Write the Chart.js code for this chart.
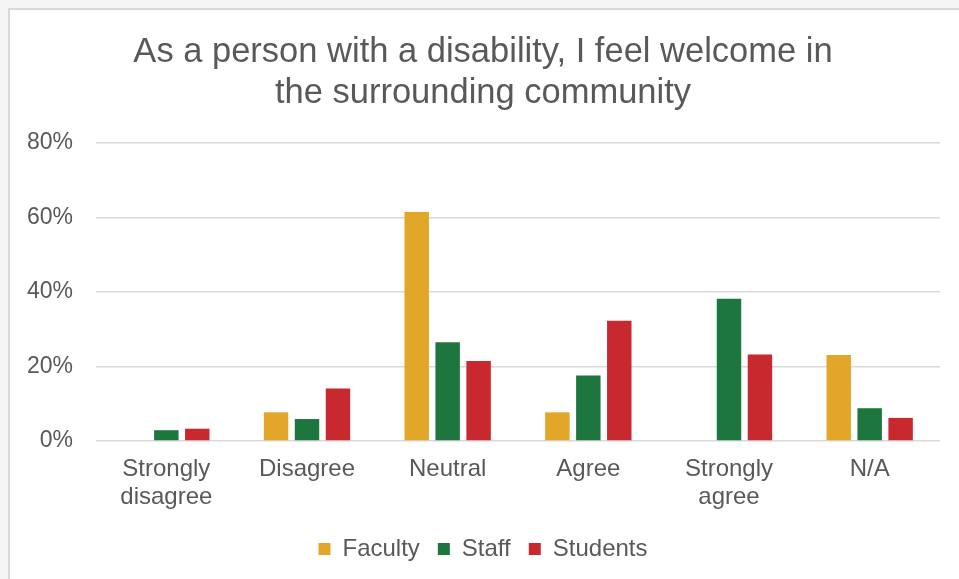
<!DOCTYPE html>
<html>
<head>
<meta charset="utf-8">
<script src="https://cdn.jsdelivr.net/npm/chart.js@4"></script>
<style>
    html, body { margin: 0; padding: 0; background: #f5f5f5; overflow: hidden; }
    #card {
        position: absolute;
        left: 8px;
        top: 8px;
        width: 951px;
        height: 571px;
        background: #ffffff;
        border-left: 2px solid #d9d9d9;
        border-top: 2px solid #d9d9d9;
    }
    canvas { display: block; }
</style>
</head>
<body>
<div id="card"><canvas id="welcomeChart" width="949" height="569"></canvas></div>
<script>
const categories = [["Strongly", "disagree"], "Disagree", "Neutral", "Agree", ["Strongly", "agree"], "N/A"];
const faculty = [0, 7.7, 61.5, 7.7, 0, 23.1];
const staff = [2.9, 5.9, 26.5, 17.6, 38.2, 8.8];
const students = [3.3, 14.1, 21.5, 32.3, 23.2, 6.2];
const yTicks = [0, 20, 40, 60, 80];

const textColor = "#595959";
const gridColor = "#d9d9d9";
const fontFamily = "Liberation Sans, Arial";

document.addEventListener("DOMContentLoaded", () => {
    const canvas = document.getElementById("welcomeChart");

    new Chart(canvas, {
        type: "bar",
        data: {
            labels: categories,
            datasets: [
                { label: "Faculty", data: faculty, backgroundColor: "#e2a628" },
                { label: "Staff", data: staff, backgroundColor: "#1e763f" },
                { label: "Students", data: students, backgroundColor: "#c8292f" },
            ],
        },
        options: {
            responsive: false,
            animation: false,
            categoryPercentage: 0.66,
            barPercentage: 0.79,
            layout: { padding: { left: 16, right: 19, top: 0, bottom: 8 } },
            plugins: {
                title: {
                    display: true,
                    text: ["As a person with a disability, I feel welcome in", "the surrounding community"],
                    color: textColor,
                    font: { family: fontFamily, size: 34.5, weight: "normal", lineHeight: 1.19 },
                    padding: { top: 22, bottom: 29 },
                },
                legend: {
                    position: "bottom",
                    labels: {
                        color: textColor,
                        boxWidth: 12,
                        boxHeight: 12,
                        padding: 18,
                        font: { family: fontFamily, size: 24 },
                    },
                },
                tooltip: { enabled: false },
            },
            scales: {
                x: {
                    grid: { display: false },
                    border: { display: false },
                    afterFit: (axis) => {
                        axis.height = 78;
                    },
                    ticks: {
                        color: textColor,
                        padding: 6,
                        maxRotation: 0,
                        font: { family: fontFamily, size: 24, lineHeight: 1.17 },
                    },
                },
                y: {
                    min: 0,
                    max: 80,
                    afterBuildTicks: (axis) => {
                        axis.ticks = yTicks.map((v) => ({ value: v }));
                    },
                    afterFit: (axis) => {
                        axis.width = 70;
                    },
                    grid: { color: gridColor, lineWidth: 1.5, drawTicks: false },
                    border: { display: false },
                    ticks: {
                        color: textColor,
                        padding: 23,
                        font: { family: fontFamily, size: 23 },
                        callback: (v) => v + "%",
                    },
                },
            },
        },
    });
});
</script>
</body>
</html>
